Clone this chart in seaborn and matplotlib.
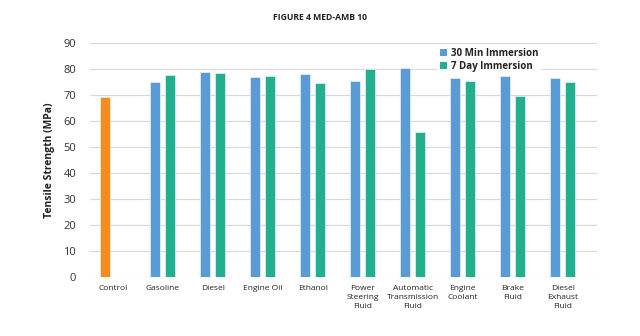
import matplotlib
matplotlib.use("Agg")
import matplotlib.pyplot as plt
import seaborn as sns
import pandas as pd
import numpy as np
from matplotlib.patches import Patch

categories = ["Control", "Gasoline", "Diesel", "Engine Oil", "Ethanol",
              "Power\nSteering\nFluid", "Automatic\nTransmission\nFluid",
              "Engine\nCoolant", "Brake\nFluid", "Diesel\nExhaust\nFluid"]
min30 = [69.3, 75.0, 78.7, 76.8, 78.2, 75.4, 80.3, 76.7, 77.4, 76.7]
day7 = [np.nan, 77.6, 78.4, 77.2, 74.7, 80.0, 55.6, 75.4, 69.5, 75.1]
series = ["30 Min Immersion", "7 Day Immersion"]
colors = {"30 Min Immersion": "#5B9BD5", "7 Day Immersion": "#22AF8D"}
control_color = "#F48C1E"
yticks = list(range(0, 91, 10))

df = pd.DataFrame({
    "category": categories * 2,
    "series": [series[0]] * len(categories) + [series[1]] * len(categories),
    "value": min30 + day7,
})

sns.set_theme(style="white")
plt.rcParams["font.family"] = ["Open Sans", "DejaVu Sans"]

fig = plt.figure(figsize=(6.4, 3.36), dpi=100)
ax = fig.add_axes([90/640, 1-277/336, (597-90)/640, (277-43)/336])

sns.barplot(data=df, x="category", y="value", hue="series", order=categories,
            hue_order=series, palette=colors, saturation=1, width=0.59, gap=0.3,
            edgecolor="#E8F0F8", linewidth=0.5, ax=ax, legend=False)

# Control bar is orange
ax.containers[0][0].set_facecolor(control_color)

ax.set_ylim(0, 90)
ax.set_yticks(yticks)
ax.set_xlim(-0.454, 9.686)
ax.grid(axis="y", color="#D9D9D9", linewidth=0.9)
ax.set_axisbelow(True)
for s in ax.spines.values():
    s.set_visible(False)
ax.tick_params(axis="x", length=0, pad=6, labelsize=6, colors="#222222")
ax.tick_params(axis="y", length=0, pad=10, labelsize=8, colors="#333333")
for lbl in ax.get_xticklabels():
    lbl.set_linespacing(1.35)
    lbl.set_verticalalignment("top")
ax.set_xlabel("")
ax.set_ylabel("Tensile Strength (MPa)", fontsize=7.5, fontweight="bold",
              color="#222222", labelpad=6)

handles = [Patch(facecolor=colors[s], edgecolor="none") for s in series]
leg = fig.legend(handles, series, loc="upper left",
                 bbox_to_anchor=(437/640, 1-45/336), frameon=True,
                 prop={"weight": "bold", "size": 7},
                 handlelength=0.7, handleheight=0.7, handletextpad=0.4,
                 labelspacing=0.2, borderpad=0.3, borderaxespad=0)
leg.get_frame().set_facecolor("white")
leg.get_frame().set_edgecolor("none")
leg.get_frame().set_alpha(1)
for t in leg.get_texts():
    t.set_color("#222222")

fig.text(320/640, 1-18/336, "FIGURE 4 MED-AMB 10", ha="center", va="center",
         fontsize=6.2, fontweight="bold", color="#222222")

fig.savefig("out.png", dpi=100)
